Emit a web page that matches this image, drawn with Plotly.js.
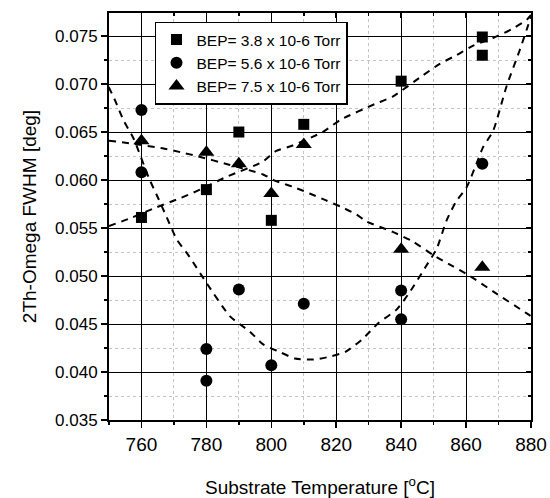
<!DOCTYPE html>
<html>
<head>
<meta charset="utf-8">
<script src="https://cdn.plot.ly/plotly-3.0.1.min.js"></script>
<style>html,body{margin:0;padding:0;background:#fff;}#chart{width:550px;height:498px;}</style>
</head>
<body>
<div id="chart"></div>
<script>
// Measured points
var sqX = [760, 780, 790, 800, 810, 840, 865, 865];
var sqY = [0.0561, 0.0590, 0.0650, 0.0558, 0.0658, 0.0703, 0.0749, 0.0730];
var ciX = [760, 760, 780, 780, 790, 800, 810, 840, 840, 865];
var ciY = [0.0673, 0.0608, 0.0424, 0.0391, 0.0486, 0.0407, 0.0471, 0.0485, 0.0455, 0.0617];
var trX = [760, 780, 790, 800, 810, 840, 865];
var trY = [0.0641, 0.0629, 0.0617, 0.0586, 0.0637, 0.0528, 0.0509];

// Dashed guide curves
var fit1X = [750, 756.4, 763.5, 771.1, 776.1, 786, 797.3, 801.4, 806.6, 815.8, 821.5, 831.8, 837.4, 846.7, 851.9, 857, 862.2, 868.3, 874, 878.7, 880];
var fit1Y = [0.0552, 0.0560, 0.0570, 0.0580, 0.0587, 0.0603, 0.0619, 0.0630, 0.0636, 0.0650, 0.0663, 0.0679, 0.0687, 0.0709, 0.0721, 0.0730, 0.0740, 0.0748, 0.0757, 0.0767, 0.0772];
var fit2X = [749.9, 752, 754.5, 757.6, 762.3, 765.3, 767.8, 770.9, 774.6, 779.8, 787.3, 793.4, 797.4, 802.5, 807.3, 813, 818.1, 822.8, 828, 833, 838.6, 842.6, 847.8, 850.9, 854, 857, 860.1, 863.2, 865.2, 868.3, 872.5, 876.6, 878.7, 880];
var fit2Y = [0.0697, 0.0682, 0.0662, 0.0643, 0.0602, 0.0580, 0.0561, 0.0538, 0.0521, 0.0494, 0.0458, 0.0442, 0.0429, 0.0421, 0.0414, 0.0413, 0.0416, 0.0421, 0.0434, 0.0451, 0.0465, 0.0483, 0.0511, 0.0528, 0.0558, 0.0578, 0.0592, 0.0617, 0.0634, 0.0651, 0.0698, 0.0736, 0.0757, 0.0770];
var fit3X = [750, 757, 766.5, 772, 777, 787, 797.3, 801.4, 806.6, 811.8, 816.7, 821.5, 826.3, 829.2, 837.4, 843.6, 849.8, 856, 861.2, 868.3, 878.7, 880];
var fit3Y = [0.0641, 0.0638, 0.0633, 0.0629, 0.0625, 0.0616, 0.0606, 0.0599, 0.0593, 0.0586, 0.0579, 0.0572, 0.0564, 0.0557, 0.0546, 0.0536, 0.0522, 0.0510, 0.0500, 0.0484, 0.0461, 0.0458];

var names = ['BEP= 3.8 x 10-6 Torr', 'BEP= 5.6 x 10-6 Torr', 'BEP= 7.5 x 10-6 Torr'];
var xTitle = 'Substrate Temperature [<sup>o</sup>C]';
var yTitle = '2Th-Omega FWHM [deg]';

var FONT = 'Arial, "Liberation Sans", sans-serif';
var dashStyle = {color: 'black', width: 2, dash: '7px,6px', shape: 'spline', smoothing: 0.6};

var traces = [
  {x: fit1X, y: fit1Y, mode: 'lines', line: dashStyle, showlegend: false, hoverinfo: 'skip'},
  {x: fit2X, y: fit2Y, mode: 'lines', line: dashStyle, showlegend: false, hoverinfo: 'skip'},
  {x: fit3X, y: fit3Y, mode: 'lines', line: dashStyle, showlegend: false, hoverinfo: 'skip'},
  {x: sqX, y: sqY, mode: 'markers', name: names[0], marker: {symbol: 'square', size: 11, color: 'black'}},
  {x: ciX, y: ciY, mode: 'markers', name: names[1], marker: {symbol: 'circle', size: 12, color: 'black'}},
  {x: trX, y: trY, mode: 'markers', name: names[2], marker: {symbol: 'triangle-up', size: 14, color: 'black'}},
  {x: [], y: [], xaxis: 'x2', yaxis: 'y2', showlegend: false, hoverinfo: 'skip'}
];

var xr = [750, 880], yr = [0.035, 0.0774];

var layout = {
  width: 550, height: 498,
  margin: {l: 109, r: 19, t: 13, b: 78},
  paper_bgcolor: 'white', plot_bgcolor: 'white',
  font: {family: FONT, color: 'black'},
  showlegend: true,
  legend: {
    x: 0.109, y: 0.979, xanchor: 'left', yanchor: 'top',
    bgcolor: 'white', bordercolor: 'black', borderwidth: 1.5,
    font: {size: 15.5, family: FONT, color: 'black'},
    tracegroupgap: 0
  },
  xaxis: {
    range: xr, tick0: 760, dtick: 20,
    ticks: 'outside', ticklen: 6, tickwidth: 1.5, tickcolor: 'black',
    showline: true, linecolor: 'black', linewidth: 2,
    showgrid: true, gridcolor: 'black', gridwidth: 1, zeroline: false,
    tickfont: {size: 19, family: FONT},
    minor: {dtick: 10, tick0: 750, ticks: 'outside', ticklen: 3, tickcolor: 'black', showgrid: true, gridcolor: '#c4c4c4', griddash: 'dot', gridwidth: 1},
    title: {text: xTitle, font: {size: 19, family: FONT}, standoff: 27}
  },
  yaxis: {
    range: yr, tick0: 0.035, dtick: 0.005, tickformat: '.3f',
    ticks: 'outside', ticklen: 6, tickwidth: 1.5, tickcolor: 'black',
    showline: true, linecolor: 'black', linewidth: 2,
    showgrid: true, gridcolor: 'black', gridwidth: 1, zeroline: false,
    tickfont: {size: 17, family: FONT},
    minor: {dtick: 0.0025, tick0: 0.035, ticks: 'outside', ticklen: 3, tickcolor: 'black', showgrid: true, gridcolor: '#c4c4c4', griddash: 'dot', gridwidth: 1},
    title: {text: yTitle, font: {size: 19, family: FONT}, standoff: 13}
  },
  xaxis2: {
    overlaying: 'x', side: 'top', anchor: 'y2', range: xr, tick0: 760, dtick: 20,
    ticks: 'inside', ticklen: 5, tickwidth: 1.5, tickcolor: 'black',
    showticklabels: false, showline: true, linecolor: 'black', linewidth: 2,
    showgrid: false, zeroline: false,
    minor: {dtick: 10, tick0: 750, ticks: 'inside', ticklen: 3, tickcolor: 'black', showgrid: false}
  },
  yaxis2: {
    overlaying: 'y', side: 'right', anchor: 'x2', range: yr, tick0: 0.035, dtick: 0.005,
    ticks: 'inside', ticklen: 5, tickwidth: 1.5, tickcolor: 'black',
    showticklabels: false, showline: true, linecolor: 'black', linewidth: 2,
    showgrid: false, zeroline: false,
    minor: {dtick: 0.0025, tick0: 0.035, ticks: 'inside', ticklen: 3, tickcolor: 'black', showgrid: false}
  }
};

Plotly.newPlot('chart', traces, layout, {staticPlot: true, displayModeBar: false});
</script>
</body>
</html>
